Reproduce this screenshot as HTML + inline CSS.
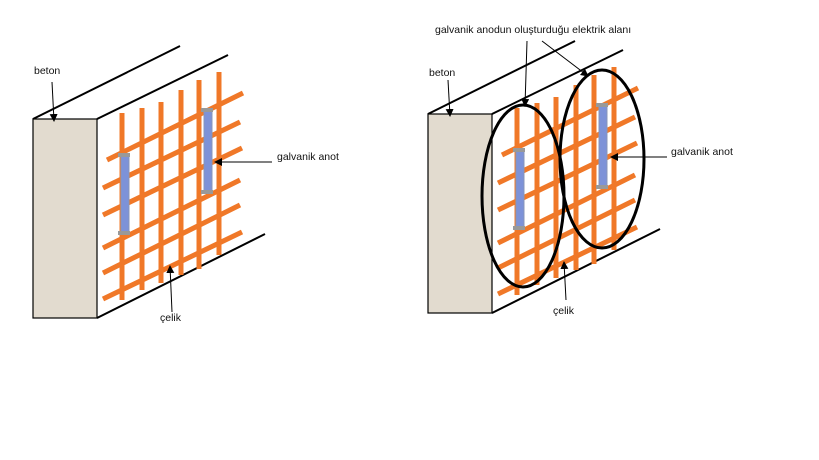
<!DOCTYPE html>
<html><head><meta charset="utf-8"><style>
html,body{margin:0;padding:0;background:#fff;}
svg{display:block;}
text{font-family:"Liberation Sans",sans-serif;font-size:10.5px;fill:#111;}
</style></head><body>
<svg width="819" height="460" viewBox="0 0 819 460" xmlns="http://www.w3.org/2000/svg">
<defs>
<marker id="ar" markerWidth="8" markerHeight="8" refX="7" refY="4" orient="auto" markerUnits="userSpaceOnUse">
<path d="M0,0 L8,4 L0,8 z" fill="#000"/></marker>
<g id="fig">
<line x1="33" y1="119" x2="180" y2="46" stroke="#000" stroke-width="2"/>
<line x1="97" y1="119" x2="228" y2="55" stroke="#000" stroke-width="2"/>
<line x1="97" y1="318" x2="265" y2="234" stroke="#000" stroke-width="2"/>
<rect x="33" y="119" width="64" height="199" fill="#e2dbcf" stroke="#000" stroke-width="1.2"/>
<g stroke="#f07828" stroke-width="5" stroke-linecap="butt">
<line x1="107" y1="160" x2="243" y2="93"/>
<line x1="103" y1="188" x2="240" y2="122"/>
<line x1="103" y1="215" x2="242" y2="148"/>
<line x1="103" y1="248" x2="240" y2="180"/>
<line x1="103" y1="273" x2="240" y2="205"/>
<line x1="103" y1="299" x2="242" y2="232"/>
<line x1="122" y1="113" x2="122" y2="300"/>
<line x1="142" y1="108" x2="142" y2="290"/>
<line x1="161" y1="102" x2="161" y2="283"/>
<line x1="181" y1="90" x2="181" y2="275"/>
<line x1="199" y1="80" x2="199" y2="269"/>
<line x1="219" y1="72" x2="219" y2="255"/>
</g>
<rect x="121" y="155" width="8" height="78" fill="#7d92d8" stroke="#8896b8" stroke-width="1"/>
<rect x="204" y="110" width="8" height="82" fill="#7d92d8" stroke="#8896b8" stroke-width="1"/>
<g fill="#999"><rect x="118" y="153" width="12" height="4"/><rect x="118" y="231" width="12" height="4"/>
<rect x="201" y="108" width="12" height="4"/><rect x="201" y="190" width="12" height="4"/></g>
</g>
</defs>
<use href="#fig"/>
<use href="#fig" transform="translate(395,-5)"/>

<!-- left labels -->
<text x="34" y="74">beton</text>
<line x1="52" y1="82" x2="54" y2="121" stroke="#000" stroke-width="1" marker-end="url(#ar)"/>
<text x="277" y="160">galvanik anot</text>
<line x1="272" y1="162" x2="215" y2="162" stroke="#000" stroke-width="1" marker-end="url(#ar)"/>
<text x="160" y="321">çelik</text>
<line x1="172" y1="312" x2="170" y2="266" stroke="#000" stroke-width="1" marker-end="url(#ar)"/>

<!-- right -->
<ellipse cx="523" cy="196" rx="41" ry="91" fill="none" stroke="#000" stroke-width="3"/>
<ellipse cx="602" cy="159" rx="42" ry="89" fill="none" stroke="#000" stroke-width="3"/>
<text x="435" y="33">galvanik anodun oluşturduğu elektrik alanı</text>
<line x1="527" y1="41" x2="525" y2="106" stroke="#000" stroke-width="1" marker-end="url(#ar)"/>
<line x1="542" y1="41" x2="588" y2="76" stroke="#000" stroke-width="1" marker-end="url(#ar)"/>
<text x="429" y="76">beton</text>
<line x1="448" y1="80" x2="450" y2="116" stroke="#000" stroke-width="1" marker-end="url(#ar)"/>
<text x="671" y="155">galvanik anot</text>
<line x1="667" y1="157" x2="611" y2="157" stroke="#000" stroke-width="1" marker-end="url(#ar)"/>
<text x="553" y="314">çelik</text>
<line x1="566" y1="300" x2="564" y2="262" stroke="#000" stroke-width="1" marker-end="url(#ar)"/>
</svg>
</body></html>
